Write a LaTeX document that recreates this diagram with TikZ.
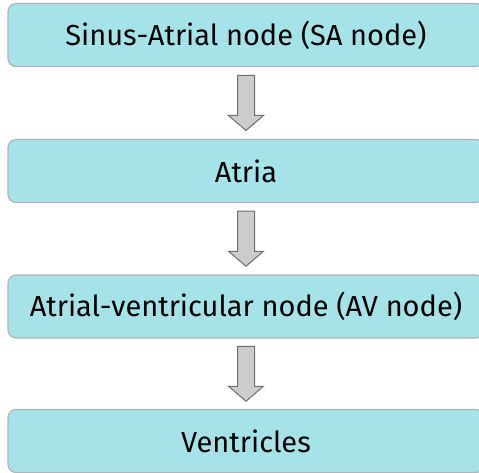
\documentclass[tikz,border=0pt]{standalone}
\usepackage{fontspec}
\setmainfont{Fira Sans}
\usetikzlibrary{calc}
\definecolor{boxfill}{HTML}{A6E3E9}
\definecolor{boxline}{HTML}{B4B4B4}
\definecolor{arrfill}{HTML}{CCCCCC}
\definecolor{arrline}{HTML}{6E6E6E}
\tikzset{
 stagebox/.style={draw=boxline,line width=1.2pt,fill=boxfill,rounded corners=8pt,
  minimum width=476pt,minimum height=63pt,inner sep=0pt,
  font=\fontsize{29}{33}\selectfont},
 blockarrow/.style={draw=arrline,fill=arrfill,line width=1pt,line join=miter}
}
\begin{document}
\begin{tikzpicture}[x=1pt,y=-1pt]
 \clip (0,0) rectangle (479,473);
 \useasboundingbox (0,0) rectangle (479,473);
 \node[stagebox] (sa) at (246,35) {Sinus-Atrial node (SA node)};
 \node[stagebox] (atria) at (246,171) {Atria};
 \node[stagebox] (av) at (246,306.5) {Atrial-ventricular node (AV node)};
 \node[stagebox] (ven) at (246,441) {Ventricles};
 \foreach \a/\b in {sa/atria,atria/av,av/ven}
  \draw[blockarrow] ($(\a.south)!0.5!(\b.north)$) +(-8.5,-27.5) -- +(8.5,-27.5)
   -- +(8.5,12.5) -- +(17.5,12.5) -- +(0,27.5) -- +(-17.5,12.5) -- +(-8.5,12.5) -- cycle;
\end{tikzpicture}
\end{document}
